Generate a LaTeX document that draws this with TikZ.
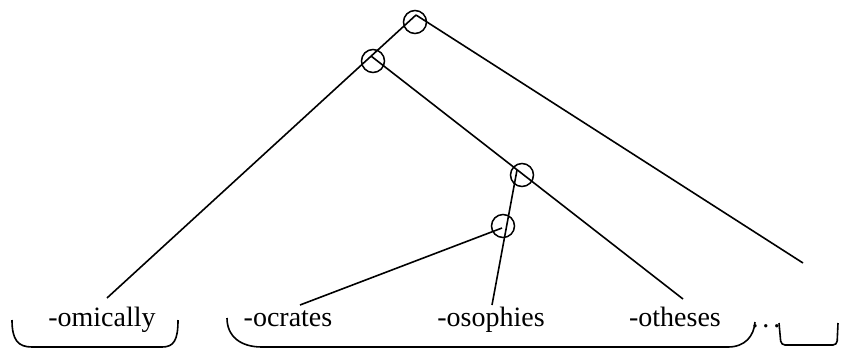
\documentclass[tikz,border=0pt]{standalone}
\usepackage{fontspec}
\setmainfont{Liberation Serif}
\usepackage{tikz}

\begin{document}
\begin{tikzpicture}[
    x=1pt, y=-1pt,
    joint/.style={draw, circle, minimum size=23pt, inner sep=0pt, line width=1.5pt},
    leaf/.style={anchor=base, inner sep=0pt, font=\fontsize{28}{30}\selectfont},
    edge/.style={line width=1.6pt},
    brace/.style={line width=1.6pt},
  ]
  \useasboundingbox (0,0) rectangle (845,349);
  % branching points and free ends
  \coordinate (top) at (416,15);
  \coordinate (mid) at (371,56);
  \coordinate (low) at (517,170);
  \coordinate (sub) at (502,228);
  \coordinate (omE) at (107,298);
  \coordinate (ocE) at (300,305);
  \coordinate (osE) at (492,305);
  \coordinate (otE) at (683,299);
  \coordinate (rest) at (803,263);
  \node[joint] (n1) at (415,22) {};
  \node[joint] (n2) at (373,61) {};
  \node[joint] (n3) at (522,175) {};
  \node[joint] (n4) at (503,226) {};
  \draw[edge] (top) -- (omE);
  \draw[edge] (top) -- (rest);
  \draw[edge] (mid) -- (otE);
  \draw[edge] (low) -- (osE);
  \draw[edge] (sub) -- (ocE);
  % suffixes
  \node[leaf] (om) at (102,326) {-omically};
  \node[leaf] (oc) at (288,326) {-ocrates};
  \node[leaf] (os) at (491,326) {-osophies};
  \node[leaf] (ot) at (675,326) {-otheses};
  \node[leaf] (dots) at (766,327) {.\kern4pt.\kern4pt.};
  % groups
  \draw[brace] (12,320) .. controls (12,340) and (18,347) .. (32,347) -- (162,347)
    .. controls (174,347) and (178,340) .. (178,320);
  \draw[brace] (227,318) .. controls (227,336) and (240,347) .. (262,347) -- (728,347)
    .. controls (745,347) and (754,336) .. (755,322);
  \draw[brace, rounded corners=4pt] (779,323) -- (781,345) -- (837,345) -- (838,323);
\end{tikzpicture}
\end{document}
